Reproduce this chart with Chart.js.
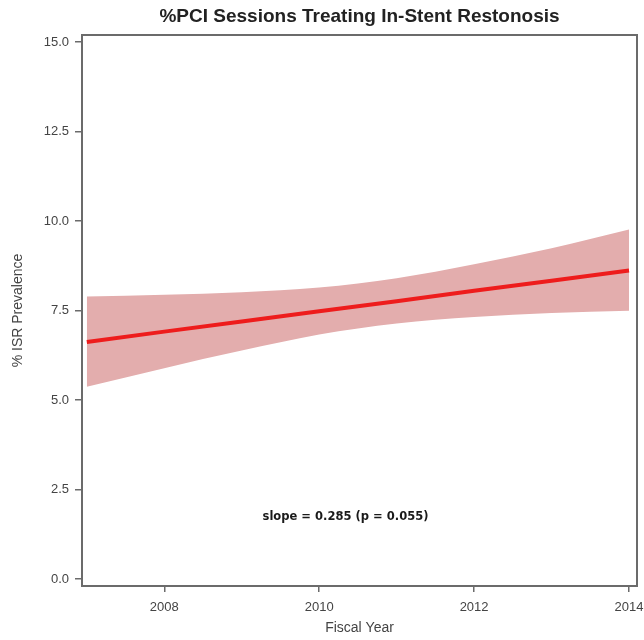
<!DOCTYPE html>
<html>
<head>
<meta charset="utf-8">
<script src="https://cdn.jsdelivr.net/npm/chart.js@4/dist/chart.umd.min.js"></script>
<style>
  html, body { margin: 0; padding: 0; background: #fff; }
  #wrap { width: 644px; height: 640px; position: relative; }
</style>
</head>
<body>
<div id="wrap"><canvas id="c" width="644" height="640"></canvas></div>
<script>
// ---- data ----
const years      = [2007, 2008, 2009, 2010, 2011, 2012, 2013, 2014];
const fitLine    = [6.62, 6.91, 7.19, 7.48, 7.76, 8.05, 8.33, 8.62];
const upperCI    = [7.89, 7.94, 8.01, 8.14, 8.40, 8.79, 9.24, 9.76];
const lowerCI    = [5.37, 5.89, 6.38, 6.83, 7.14, 7.32, 7.43, 7.49];
const xTicks     = [2008, 2010, 2012, 2014];
const yTicks     = [0, 2.5, 5, 7.5, 10, 12.5, 15];
const titleText  = '%PCI Sessions Treating In-Stent Restonosis';
const xTitle     = 'Fiscal Year';
const yTitle     = '% ISR Prevalence';
const noteText   = 'slope = 0.285 (p = 0.055)';
const notePos    = { x: 2010.34, y: 1.73 };

const pts = arr => years.map((y, i) => ({ x: y, y: arr[i] }));

const framePlugin = {
  id: 'frame',
  afterDraw(chart) {
    const { ctx, chartArea: a, scales } = chart;
    ctx.save();
    ctx.strokeStyle = '#6b6b6b';
    ctx.lineWidth = 2;
    ctx.strokeRect(a.left, a.top, a.right - a.left, a.bottom - a.top);
    // title, centred over the plot area
    ctx.fillStyle = '#222';
    ctx.font = "bold 19px 'Liberation Sans', Arial, sans-serif";
    ctx.textAlign = 'center';
    ctx.textBaseline = 'middle';
    ctx.fillText(titleText, (a.left + a.right) / 2, 17);
    // annotation
    ctx.fillStyle = '#1a1a1a';
    ctx.font = "bold 13px 'DejaVu Sans Condensed', 'DejaVu Sans', sans-serif";
    const px = scales.x.getPixelForValue(notePos.x);
    const py = scales.y.getPixelForValue(notePos.y);
    const w = ctx.measureText(noteText).width;
    const target = 166;
    ctx.translate(px, py);
    ctx.scale(Math.min(1, target / w), 1);
    ctx.fillText(noteText, 0, 0);
    ctx.restore();
  }
};

new Chart(document.getElementById('c'), {
  type: 'line',
  data: {
    datasets: [
      { data: pts(upperCI), fill: '+1', backgroundColor: '#e3adad', borderWidth: 0, pointRadius: 0, cubicInterpolationMode: 'monotone', order: 2 },
      { data: pts(lowerCI), fill: false, borderWidth: 0, pointRadius: 0, cubicInterpolationMode: 'monotone', order: 3 },
      { data: pts(fitLine), fill: false, borderColor: '#ee1c1c', borderWidth: 4, pointRadius: 0, order: 0 }
    ]
  },
  options: {
    responsive: false,
    animation: false,
    layout: { padding: { left: 0, right: 7, top: 35, bottom: 0 } },
    plugins: {
      legend: { display: false },
      tooltip: { enabled: false },
      title: { display: false }
    },
    scales: {
      x: {
        type: 'linear',
        min: 2006.938,
        max: 2014.103,
        afterBuildTicks: s => { s.ticks = xTicks.map(v => ({ value: v })); },
        afterFit: s => { s.height = 54; s.paddingLeft = 0; s.paddingRight = 0; },
        ticks: { color: '#444', font: { family: "'Liberation Sans', Arial, sans-serif", size: 13 }, padding: 8, maxRotation: 0, callback: v => String(v) },
        grid: { display: true, drawOnChartArea: false, drawTicks: true, tickLength: 6, color: '#6b6b6b', lineWidth: 1.5 },
        border: { display: false },
        title: { display: true, text: xTitle, color: '#444', font: { family: "'Liberation Sans', Arial, sans-serif", size: 14 }, padding: { top: 0, bottom: 3 } }
      },
      y: {
        min: -0.196,
        max: 15.196,
        afterBuildTicks: s => { s.ticks = yTicks.map(v => ({ value: v })); },
        afterFit: s => { s.width = 82; s.paddingTop = 0; s.paddingBottom = 0; },
        ticks: { color: '#444', font: { family: "'Liberation Sans', Arial, sans-serif", size: 13 }, padding: 6, callback: v => Number(v).toFixed(1) },
        grid: { display: true, drawOnChartArea: false, drawTicks: true, tickLength: 7, color: '#6b6b6b', lineWidth: 1.5 },
        border: { display: false },
        title: { display: true, text: yTitle, color: '#444', font: { family: "'Liberation Sans', Arial, sans-serif", size: 14 }, padding: { top: 10, bottom: 0 } }
      }
    }
  },
  plugins: [framePlugin]
});
</script>
</body>
</html>
